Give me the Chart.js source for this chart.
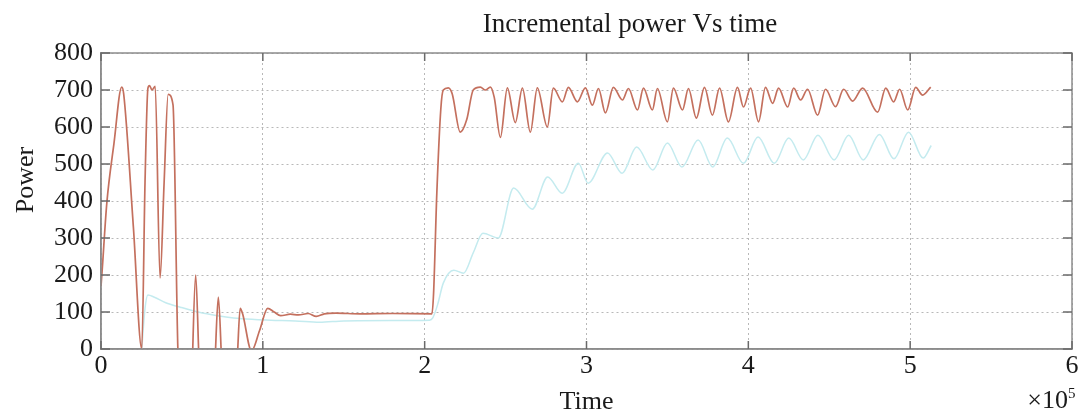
<!DOCTYPE html>
<html>
<head>
<meta charset="utf-8">
<script src="https://cdn.jsdelivr.net/npm/chart.js@4.4.1/dist/chart.umd.min.js"></script>
<style>
html, body { margin: 0; padding: 0; background: #fff; }
</style>
</head>
<body>
<canvas id="powerChart" width="1088" height="415"></canvas>
<script>
// time axis is in units of 1e5 (the axis shows x10^5)
var xTicks = [0, 1, 2, 3, 4, 5, 6];
var yTicks = [0, 100, 200, 300, 400, 500, 600, 700, 800];

// incremental power (red trace)
var redTime = [0, 0.006, 0.036, 0.08, 0.128, 0.14, 0.2, 0.252, 0.272, 0.29, 0.30, 0.315,
    0.335, 0.365, 0.39, 0.415, 0.445, 0.475, 0.51, 0.555, 0.567, 0.585, 0.603,
    0.62, 0.69, 0.708, 0.725, 0.742, 0.76, 0.82, 0.845, 0.86, 0.875,
    0.93, 0.98, 1.03, 1.07, 1.11, 1.17, 1.22, 1.28, 1.33, 1.38,
    1.45, 1.6, 1.8, 2.045, 2.055, 2.075, 2.10, 2.115, 2.146, 2.17,
    2.22, 2.26, 2.30, 2.344, 2.375, 2.406, 2.43, 2.468, 2.511, 2.56,
    2.604, 2.653, 2.696, 2.758, 2.795, 2.851, 2.888, 2.944, 2.993, 3.036,
    3.074, 3.117, 3.166, 3.222, 3.259, 3.315, 3.352, 3.407, 3.438, 3.5,
    3.537, 3.593, 3.63, 3.679, 3.729, 3.778, 3.822, 3.877, 3.933, 3.97,
    4.014, 4.063, 4.106, 4.15, 4.187, 4.243, 4.28, 4.323, 4.366, 4.428,
    4.477, 4.539, 4.589, 4.644, 4.706, 4.799, 4.849, 4.898, 4.935, 4.985,
    5.034, 5.077, 5.127];
var redPower = [170, 205, 395, 555, 708, 690, 330, 0, 450, 705, 712, 700,
    710, 192, 450, 688, 660, 0, -250, -250, 0, 200, 0,
    -250, -250, 0, 140, 0, -250, -250, 0, 110, 95,
    -5, 50, 110, 100, 90, 94, 92, 96, 88, 95,
    97, 95, 96, 95, 150, 420, 650, 700, 706, 690,
    586, 620, 700, 708, 700, 708, 680, 572, 706, 612,
    705, 586, 706, 600, 705, 668, 707, 668, 706, 659,
    704, 638, 707, 673, 704, 646, 705, 646, 704, 614,
    705, 646, 704, 624, 707, 632, 705, 614, 707, 654,
    705, 614, 707, 664, 705, 654, 705, 673, 702, 632,
    702, 655, 702, 670, 705, 640, 705, 668, 702, 646,
    707, 686, 708];

// second trace (light cyan)
var cyanTime = [0.252, 0.272, 0.29, 0.33, 0.4, 0.49, 0.6, 0.72, 0.82, 0.95,
    1.05, 1.2, 1.35, 1.5, 1.8, 2.03, 2.05, 2.08, 2.115, 2.18,
    2.24, 2.30, 2.36, 2.455, 2.55, 2.665, 2.76, 2.85, 2.95, 3.01,
    3.13, 3.22, 3.31, 3.41, 3.50, 3.59, 3.69, 3.78, 3.87, 3.97,
    4.06, 4.16, 4.25, 4.34, 4.43, 4.53, 4.62, 4.71, 4.81, 4.90,
    4.99, 5.08, 5.13];
var cyanPower = [0, 110, 146, 140, 125, 113, 100, 90, 84, 80,
    78, 76, 72, 76, 77, 78, 84, 120, 178, 213,
    205, 260, 313, 300, 435, 378, 465, 421, 502, 448,
    530, 475, 546, 484, 557, 492, 565, 492, 570, 502,
    573, 502, 570, 511, 578, 511, 578, 511, 580, 514,
    586, 516, 550];

var serif = "'Liberation Serif', 'Times New Roman', serif";

function toPoints(xs, ys) {
    var pts = [];
    for (var i = 0; i < xs.length; i++) {
        pts.push({x: xs[i], y: ys[i]});
    }
    return pts;
}

//box, inner tick marks and the loose texts
var framePlugin = {
    id: 'frame',
    afterDraw: function(chart) {
        var c = chart.ctx;
        var a = chart.chartArea;
        var xs = chart.scales.x;
        var ys = chart.scales.y;
        c.save();
        c.strokeStyle = '#8c8c8c';
        c.lineWidth = 1.5;
        c.strokeRect(a.left, a.top, a.right - a.left, a.bottom - a.top);
        c.strokeStyle = '#6a6a6a';
        c.beginPath();
        xTicks.forEach(function(v) {
            var px = xs.getPixelForValue(v);
            c.moveTo(px, a.bottom); c.lineTo(px, a.bottom - 8);
            c.moveTo(px, a.top); c.lineTo(px, a.top + 8);
        });
        yTicks.forEach(function(v) {
            var py = ys.getPixelForValue(v);
            c.moveTo(a.left, py); c.lineTo(a.left + 9, py);
            c.moveTo(a.right, py); c.lineTo(a.right - 9, py);
        });
        c.stroke();

        c.fillStyle = '#1a1a1a';
        c.font = '27px ' + serif;
        c.textAlign = 'center';
        c.textBaseline = 'alphabetic';
        c.fillText('Incremental power Vs time', 630, 32);
        c.font = '26px ' + serif;
        c.save();
        c.translate(33, 180);
        c.rotate(-Math.PI / 2);
        c.fillText('Power', 0, 0);
        c.restore();
        c.textAlign = 'right';
        c.fillText('\u00d710', 1068, 408);
        c.font = '15px ' + serif;
        c.textAlign = 'left';
        c.fillText('5', 1068, 398);
        c.restore();
    }
};

var target = document.getElementById('powerChart');
var powerChart = new Chart(target, {
    type: 'line',
    data: {
        datasets: [
            {
                label: 'Incremental power',
                data: toPoints(redTime, redPower),
                borderColor: 'rgb(196,112,94)',
                borderWidth: 1.7,
                pointRadius: 0,
                cubicInterpolationMode: 'monotone'
            },
            {
                label: 'Power',
                data: toPoints(cyanTime, cyanPower),
                borderColor: '#c4ebef',
                borderWidth: 1.5,
                pointRadius: 0,
                cubicInterpolationMode: 'monotone'
            }
        ]
    },
    options: {
        responsive: false,
        animation: false,
        layout: { padding: { top: 53, right: 16, left: 0, bottom: 0 } },
        plugins: {
            legend: { display: false },
            tooltip: { enabled: false }
        },
        scales: {
            x: {
                type: 'linear',
                min: 0,
                max: 6,
                afterBuildTicks: function(scale) {
                    scale.ticks = xTicks.map(function(v) { return {value: v}; });
                },
                afterFit: function(scale) { scale.height = 66; },
                ticks: {
                    font: { family: serif, size: 26, lineHeight: 1.2 },
                    color: '#1a1a1a',
                    padding: 2,
                    maxRotation: 0
                },
                grid: { color: '#b8b8b8', lineWidth: 1, drawTicks: false },
                border: { display: true, color: '#8c8c8c', width: 1.5, dash: [2, 3] },
                title: {
                    display: true,
                    text: 'Time',
                    font: { family: serif, size: 26, lineHeight: 1 },
                    color: '#1a1a1a',
                    padding: { top: 0, bottom: 0 }
                }
            },
            y: {
                min: 0,
                max: 800,
                afterBuildTicks: function(scale) {
                    scale.ticks = yTicks.map(function(v) { return {value: v}; });
                },
                afterFit: function(scale) { scale.width = 101; },
                ticks: {
                    font: { family: serif, size: 26, lineHeight: 1.2 },
                    color: '#1a1a1a',
                    padding: 8
                },
                grid: { color: '#b8b8b8', lineWidth: 1, drawTicks: false },
                border: { display: true, color: '#8c8c8c', width: 1.5, dash: [2, 3] }
            }
        }
    },
    plugins: [framePlugin]
});
</script>
</body>
</html>
